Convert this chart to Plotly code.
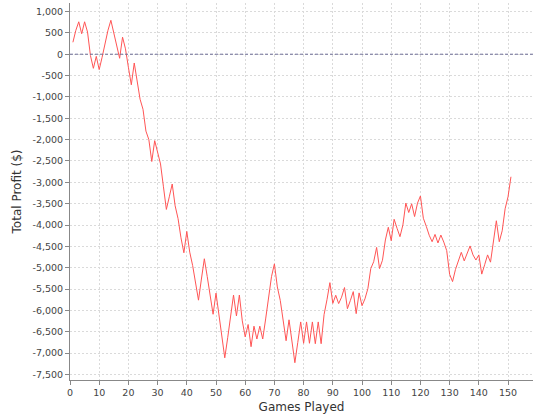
import plotly.graph_objects as go

# Game number (x) and running total profit in dollars (y)
games = list(range(1, 152))
profit = [
    280, 560, 760, 480, 760, 520, -30, -330, -50, -360,
    -70, 283, 560, 795, 520, 245, -95, 400, 126, -307,
    -716, -205, -622, -1055, -1290, -1800, -2000, -2512, -2024, -2280,
    -2570, -3105, -3635, -3340, -3040, -3550, -3850, -4300, -4650, -4150,
    -4635, -4950, -5380, -5760, -5265, -4790, -5210, -5695, -6090, -5595,
    -6090, -6600, -7110, -6640, -6130, -5640, -6130, -5640, -6245, -6620,
    -6330, -6850, -6370, -6670, -6370, -6670, -6200, -5685, -5210, -4910,
    -5450, -5765, -6280, -6710, -6220, -6790, -7225, -6750, -6270, -6770,
    -6270, -6770, -6270, -6780, -6270, -6780, -6100, -5750, -5350, -5835,
    -5645, -5840, -5690, -5465, -5960, -5770, -5560, -6075, -5590, -5890,
    -5730, -5490, -5020, -4860, -4525, -5020, -4825, -4350, -4053, -4368,
    -3865, -4077, -4273, -3998, -3487, -3707, -3503, -3802, -3487, -3320,
    -3842, -4030, -4240, -4391, -4220, -4420, -4235, -4400, -4600, -5155,
    -5325, -5040, -4840, -4640, -4840, -4665, -4490, -4700, -4820, -4700,
    -5150, -4930, -4700, -4870, -4370, -3900, -4391, -4135, -3620, -3340,
    -2870,
]

x_ticks = list(range(0, 151, 10))
y_ticks = list(range(-7500, 1001, 500))
y_labels = [f"{v:,}" for v in y_ticks]

axis_grey = "#888888"
grid_grey = "#dadada"
font_family = "DejaVu Sans"

fig = go.Figure()

fig.add_trace(go.Scatter(
    x=games,
    y=profit,
    mode="lines",
    line={"color": "#ff5555", "width": 1},
    showlegend=False,
    hovertemplate="Game %{x}<br>$%{y:,}<extra></extra>",
))

# dashed marker along break-even
fig.add_shape(
    type="line", xref="paper", x0=0, x1=1, yref="y", y0=0, y1=0,
    line={"color": "rgb(110,110,150)", "width": 1, "dash": "3px,2px"},
    layer="above",
)

fig.update_layout(
    width=540,
    height=420,
    margin={"l": 70, "r": 7, "t": 3, "b": 40, "autoexpand": False},
    paper_bgcolor="#ffffff",
    plot_bgcolor="#ffffff",
    font={"family": font_family, "color": "#333333"},
    xaxis={
        "range": [0, 158.55],
        "tickvals": x_ticks,
        "ticks": "outside",
        "ticklen": 4,
        "tickcolor": axis_grey,
        "tickfont": {"size": 9.5, "color": "#444444"},
        "showline": True,
        "linecolor": axis_grey,
        "linewidth": 1,
        "showgrid": True,
        "gridcolor": grid_grey,
        "griddash": "2px,2px",
        "zeroline": False,
        "title": {"text": "Games Played", "font": {"size": 12, "color": "#333333"}, "standoff": 5},
    },
    yaxis={
        "range": [-7630, 1200],
        "tickvals": y_ticks,
        "ticktext": y_labels,
        "ticks": "outside",
        "ticklen": 4,
        "tickcolor": axis_grey,
        "tickfont": {"size": 9.5, "color": "#444444"},
        "ticklabeloverflow": "allow",
        "showline": True,
        "linecolor": axis_grey,
        "linewidth": 1,
        "showgrid": True,
        "gridcolor": grid_grey,
        "griddash": "2px,2px",
        "zeroline": False,
        "title": {"text": "Total Profit ($)", "font": {"size": 12, "color": "#333333"}, "standoff": 8},
    },
)

# drop the browser's default body margin so the figure fills the window exactly
fig.write_html(
    "out.html",
    config={"displayModeBar": False},
    post_script="document.body.style.margin = '0';",
)
